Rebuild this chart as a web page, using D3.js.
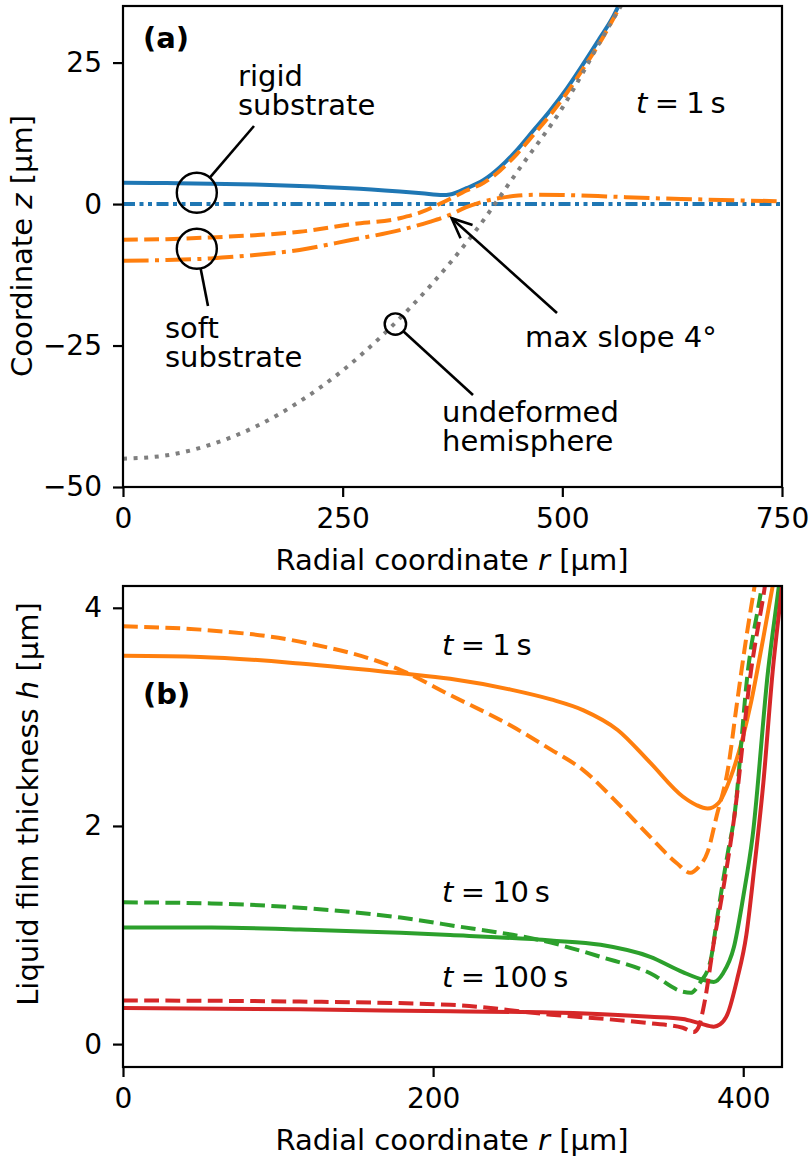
<!DOCTYPE html>
<html>
<head>
<meta charset="utf-8">
<script src="https://cdn.jsdelivr.net/npm/d3@7"></script>
<style>
  body { margin: 0; background: #fff; }
  svg text { font-family: "DejaVu Sans", sans-serif; fill: #000; }
</style>
</head>
<body>
<svg id="fig" width="809" height="1157"></svg>
<script>
// ── Data: panel (a), surface shapes at t = 1 s ───────────────────────────────
const rigidDropR = [0, 50, 100, 150, 201, 258, 315, 340, 364, 372, 391, 410, 429, 448, 467, 486, 505, 524, 543, 556, 570];
const rigidDropZ = [3.75, 3.7, 3.6, 3.45, 3.2, 2.8, 2.2, 1.9, 1.6, 1.7, 2.8, 4.2, 6.5, 9.5, 13, 16.5, 20.4, 24.8, 29.4, 32.6, 37];

const softDropR = [0, 50, 100, 150, 201, 258, 315, 340, 360, 372, 391, 410, 429, 448, 467, 486, 505, 524, 543, 560, 575];
const softDropZ = [-6.3, -6.2, -5.9, -5.5, -4.9, -3.6, -2.5, -1.4, 0.0, 0.9, 2.4, 3.7, 5.9, 8.8, 12.2, 15.7, 19.6, 24, 28.6, 33.3, 37.5];

const softSubR = [0, 50, 100, 150, 201, 258, 315, 350, 372, 390, 409, 430, 450, 470, 500, 550, 600, 650, 700, 750];
const softSubZ = [-10, -9.9, -9.6, -9.0, -8.1, -6.4, -4.6, -3.1, -1.9, -0.6, 0.4, 1.1, 1.5, 1.65, 1.6, 1.35, 1.05, 0.85, 0.65, 0.5];

const rigidSubR = [0, 750];
const rigidSubZ = [0, 0];

const sphereR = [0, 50, 100, 150, 200, 250, 300, 350, 400, 450, 500, 550, 580];
const sphereZ = [-45, -44.4, -42.5, -39.4, -35, -29.4, -22.5, -14.4, -5, 6, 17, 30.6, 38.5];

const ticksAx = [0, 250, 500, 750];
const ticksAy = [-50, -25, 0, 25];

// ── Data: panel (b), film thickness ──────────────────────────────────────────
const h1RigidR = [0, 50, 114, 179, 211, 250, 276, 297, 319, 340, 361, 370, 377, 384, 392, 405, 413, 419, 425];
const h1RigidH = [3.56, 3.55, 3.49, 3.4, 3.35, 3.25, 3.16, 3.06, 2.88, 2.58, 2.27, 2.19, 2.16, 2.21, 2.45, 3.13, 3.73, 4.2, 4.7];

const h1SoftR = [0, 50, 114, 179, 211, 250, 276, 297, 319, 340, 357, 366, 371, 377, 383, 390, 396, 402, 407, 412];
const h1SoftH = [3.83, 3.8, 3.69, 3.43, 3.2, 2.92, 2.7, 2.51, 2.21, 1.9, 1.66, 1.57, 1.62, 1.76, 2.1, 2.51, 3.13, 3.73, 4.17, 4.6];

const h10RigidR = [0, 57, 114, 179, 211, 276, 308, 340, 361, 374, 381, 387, 394, 400, 406, 416, 423, 430];
const h10RigidH = [1.07, 1.07, 1.05, 1.02, 1.0, 0.95, 0.91, 0.8, 0.66, 0.59, 0.57, 0.65, 0.89, 1.35, 1.9, 3.42, 4.2, 5.0];

const h10SoftR = [0, 57, 114, 179, 211, 276, 308, 340, 361, 366, 372, 379, 383, 390, 394, 403, 412, 418];
const h10SoftH = [1.30, 1.29, 1.25, 1.16, 1.09, 0.93, 0.8, 0.65, 0.48, 0.47, 0.56, 0.77, 1.14, 1.75, 2.06, 3.42, 4.2, 4.8];

const h100RigidR = [0, 114, 211, 276, 340, 361, 372, 381, 385, 390, 396, 402, 407, 413, 419, 425, 430];
const h100RigidH = [0.33, 0.32, 0.30, 0.29, 0.25, 0.23, 0.19, 0.16, 0.18, 0.28, 0.59, 1.0, 1.6, 2.4, 3.42, 4.2, 4.9];

const h100SoftR = [0, 114, 211, 276, 340, 361, 368, 371, 375, 381, 388, 394, 405, 414, 420];
const h100SoftH = [0.40, 0.39, 0.36, 0.27, 0.19, 0.15, 0.11, 0.15, 0.38, 0.93, 1.5, 2.06, 3.42, 4.2, 4.8];

const ticksBx = [0, 200, 400];
const ticksBy = [0, 2, 4];

// ── Style ────────────────────────────────────────────────────────────────────
const FS = 29;      // labels and annotations
const FS_TICK = 28; // tick labels
const C = { blue: '#1f77b4', orange: '#ff7f0e', green: '#2ca02c', red: '#d62728', gray: '#7f7f7f' };
const LW = 4;
const DASH = { solid: null, dashed: '14.8,6.4', dashdot: '25.6,6.4,4,6.4', dashdotdot: '12,4.5,4,4.5,4,4.5', dotted: '4,6.6' };

const svg = d3.select('#fig');
const zip = (xs, ys) => xs.map((v, i) => [v, ys[i]]);

// ── Helpers ──────────────────────────────────────────────────────────────────
function makePanel(id, box, xDom, yDom, xTicks, yTicks) {
  const x = d3.scaleLinear().domain(xDom).range([box.left, box.right]);
  const y = d3.scaleLinear().domain(yDom).range([box.bottom, box.top]);

  svg.append('clipPath').attr('id', id)
    .append('rect')
    .attr('x', box.left).attr('y', box.top)
    .attr('width', box.right - box.left).attr('height', box.bottom - box.top);

  const plot = svg.append('g').attr('clip-path', `url(#${id})`);

  const ax = svg.append('g').attr('transform', `translate(0,${box.bottom})`)
    .call(d3.axisBottom(x).tickValues(xTicks).tickSize(10).tickPadding(11).tickFormat(d3.format('d')));
  const ay = svg.append('g').attr('transform', `translate(${box.left},0)`)
    .call(d3.axisLeft(y).tickValues(yTicks).tickSize(10).tickPadding(11).tickFormat(d3.format('d')));
  [ax, ay].forEach((a) => {
    a.select('.domain').remove();
    a.selectAll('line').attr('stroke', '#000').attr('stroke-width', 2.2);
    a.selectAll('text').attr('font-size', FS_TICK).attr('font-family', '"DejaVu Sans", sans-serif').attr('fill', '#000');
  });

  return { x, y, plot, box };
}

function frame(p) {
  const b = p.box;
  svg.append('rect')
    .attr('x', b.left).attr('y', b.top)
    .attr('width', b.right - b.left).attr('height', b.bottom - b.top)
    .attr('fill', 'none').attr('stroke', '#000').attr('stroke-width', 2.2);
}

function drawLine(p, rs, vs, color, dash) {
  const line = d3.line()
    .x((d) => p.x(d[0]))
    .y((d) => p.y(d[1]))
    .curve(d3.curveMonotoneX);
  p.plot.append('path')
    .datum(zip(rs, vs))
    .attr('fill', 'none')
    .attr('stroke', color)
    .attr('stroke-width', LW)
    .attr('stroke-dasharray', dash)
    .attr('stroke-linecap', 'butt')
    .attr('stroke-linejoin', 'round')
    .attr('d', line);
}

// two-line annotation text, one <text> per line
function lines(x, y0, rows) {
  rows.forEach((row, i) => {
    svg.append('text').attr('x', x).attr('y', y0 + i * 29).attr('font-size', FS).text(row);
  });
}

function timeLabel(x, y, value) {
  const t = svg.append('text').attr('x', x).attr('y', y).attr('font-size', FS);
  t.append('tspan').attr('font-style', 'italic').text('t');
  t.append('tspan').text(`\u2005=\u2005${value}\u2009s`);
}

function circleCallout(cx, cy, rad, ex, ey) {
  svg.append('circle').attr('cx', cx).attr('cy', cy).attr('r', rad)
    .attr('fill', 'none').attr('stroke', '#000').attr('stroke-width', 2.4);
  const dx = ex - cx, dy = ey - cy, len = Math.hypot(dx, dy);
  svg.append('line')
    .attr('x1', cx + dx / len * rad).attr('y1', cy + dy / len * rad)
    .attr('x2', ex).attr('y2', ey)
    .attr('stroke', '#000').attr('stroke-width', 2.6);
}

function arrow(x1, y1, x2, y2) {
  svg.append('line').attr('x1', x1).attr('y1', y1).attr('x2', x2).attr('y2', y2)
    .attr('stroke', '#000').attr('stroke-width', 2.6);
  const ang = Math.atan2(y1 - y2, x1 - x2);
  const hl = 22, spread = 0.42;
  const w1 = [x2 + hl * Math.cos(ang + spread), y2 + hl * Math.sin(ang + spread)];
  const w2 = [x2 + hl * Math.cos(ang - spread), y2 + hl * Math.sin(ang - spread)];
  svg.append('path')
    .attr('d', `M${w1[0]},${w1[1]}L${x2},${y2}L${w2[0]},${w2[1]}`)
    .attr('fill', 'none').attr('stroke', '#000').attr('stroke-width', 2.6)
    .attr('stroke-linejoin', 'miter');
}

function yLabel(x, y, pre, sym, post) {
  const t = svg.append('text').attr('font-size', FS).attr('text-anchor', 'middle')
    .attr('transform', `translate(${x},${y}) rotate(-90)`);
  t.append('tspan').text(pre);
  t.append('tspan').attr('font-style', 'italic').text(sym);
  t.append('tspan').text(post);
}

function xLabel(x, y) {
  const t = svg.append('text').attr('x', x).attr('y', y).attr('font-size', FS).attr('text-anchor', 'middle');
  t.append('tspan').text('Radial coordinate ');
  t.append('tspan').attr('font-style', 'italic').text('r');
  t.append('tspan').text(' [µm]');
}

// ── Panel (a) ────────────────────────────────────────────────────────────────
const A = makePanel('clipA', { left: 123, right: 782, top: 6, bottom: 487 }, [0, 750], [-50, 35], ticksAx, ticksAy);

drawLine(A, rigidDropR, rigidDropZ, C.blue, DASH.solid);
drawLine(A, rigidSubR, rigidSubZ, C.blue, DASH.dashdotdot);
drawLine(A, softDropR, softDropZ, C.orange, DASH.dashed);
drawLine(A, softSubR, softSubZ, C.orange, DASH.dashdot);
drawLine(A, sphereR, sphereZ, C.gray, DASH.dotted);
frame(A);

svg.append('text').attr('x', 143).attr('y', 48).attr('font-size', FS).attr('font-weight', 'bold').text('(a)');
timeLabel(636, 113, 1);

circleCallout(A.x(84), A.y(2.0), 20, 254, 126);
lines(238, 86, ['rigid', 'substrate']);

circleCallout(A.x(84), A.y(-7.9), 20, 208, 306);
lines(165, 338, ['soft', 'substrate']);

circleCallout(A.x(310), A.y(-21.2), 10.7, 473, 395);
lines(442, 422, ['undeformed', 'hemisphere']);

arrow(557, 313, A.x(374), A.y(-2.5));
lines(525, 347, ['max slope 4°']);

xLabel(452, 570);
yLabel(32, 246, 'Coordinate ', 'z', ' [µm]');

// ── Panel (b) ────────────────────────────────────────────────────────────────
const B = makePanel('clipB', { left: 123, right: 782, top: 586, bottom: 1067 }, [0, 425], [-0.21, 4.2], ticksBx, ticksBy);

drawLine(B, h1RigidR, h1RigidH, C.orange, DASH.solid);
drawLine(B, h1SoftR, h1SoftH, C.orange, DASH.dashed);
drawLine(B, h10RigidR, h10RigidH, C.green, DASH.solid);
drawLine(B, h10SoftR, h10SoftH, C.green, DASH.dashed);
drawLine(B, h100RigidR, h100RigidH, C.red, DASH.solid);
drawLine(B, h100SoftR, h100SoftH, C.red, DASH.dashed);
frame(B);

svg.append('text').attr('x', 143).attr('y', 704).attr('font-size', FS).attr('font-weight', 'bold').text('(b)');
timeLabel(442, 655, 1);
timeLabel(442, 902, 10);
timeLabel(442, 987, 100);

xLabel(452, 1150);
yLabel(38, 804, 'Liquid film thickness ', 'h', ' [µm]');
</script>
</body>
</html>
